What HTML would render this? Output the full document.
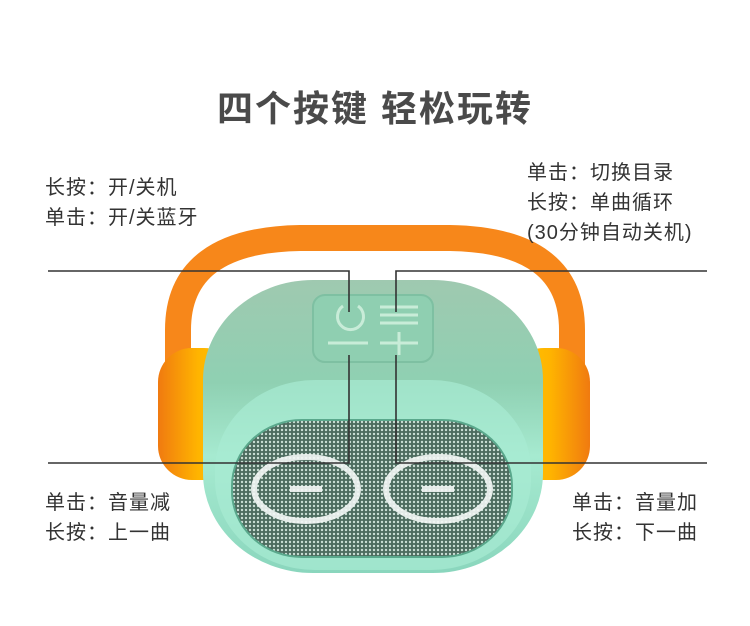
<!DOCTYPE html>
<html><head><meta charset="utf-8"><style>
body{margin:0;width:750px;height:626px;background:#fff;overflow:hidden;position:relative;font-family:"Liberation Sans","Noto Sans CJK SC",sans-serif;}
.t{position:absolute;color:#333;font-size:20px;line-height:30px;letter-spacing:1px;white-space:nowrap}
</style></head><body>
<svg width="750" height="626" style="position:absolute;left:0;top:0">
<defs>
<linearGradient id="bd" x1="0" y1="0" x2="0" y2="1"><stop offset="0" stop-color="#9fc9b0"/><stop offset="0.35" stop-color="#8fd0b2"/><stop offset="0.6" stop-color="#a6ead0"/><stop offset="1" stop-color="#8ad6bd"/></linearGradient>
<pattern id="dots" width="4" height="4" patternUnits="userSpaceOnUse"><rect width="4" height="4" fill="#4c6b5e"/><circle cx="2" cy="2" r="1.2" fill="#c9ded4"/></pattern>
<linearGradient id="ear" x1="0" y1="0" x2="1" y2="0"><stop offset="0" stop-color="#f07a10"/><stop offset="0.5" stop-color="#ffb400"/><stop offset="1" stop-color="#ffc800"/></linearGradient>
<linearGradient id="ear2" x1="1" y1="0" x2="0" y2="0"><stop offset="0" stop-color="#f07a10"/><stop offset="0.5" stop-color="#ffb400"/><stop offset="1" stop-color="#ffc800"/></linearGradient>
</defs>
<!-- handle -->
<path d="M178 420 L178 330 Q178 240 300 238 L450 238 Q572 240 572 330 L572 420" fill="none" stroke="#f7871a" stroke-width="26" stroke-linecap="round"/>
<!-- ear cups -->
<rect x="158" y="348" width="80" height="132" rx="34" fill="url(#ear)"/>
<rect x="510" y="348" width="80" height="132" rx="34" fill="url(#ear2)"/>
<!-- body -->
<rect x="203" y="280" width="340" height="293" rx="110" ry="100" fill="url(#bd)"/>
<rect x="215" y="380" width="316" height="190" rx="100" ry="90" fill="#a8ebd3" opacity="0.7"/>
<!-- grille -->
<rect x="232" y="420" width="280" height="137" rx="70" ry="66" fill="url(#dots)" stroke="#5aa88c" stroke-width="2"/>
<g fill="none" stroke="#f4f8f6" stroke-width="6" opacity="0.9">
<ellipse cx="306" cy="489" rx="52" ry="32"/>
<ellipse cx="438" cy="489" rx="52" ry="32"/>
<line x1="290" y1="489" x2="322" y2="489"/>
<line x1="422" y1="489" x2="454" y2="489"/>
</g>
<!-- panel -->
<rect x="313" y="295" width="120" height="67" rx="12" fill="#8fcfb1" stroke="#7ec0a2" stroke-width="2"/>
<g stroke="#c8ecd8" stroke-width="3" fill="none">
<path d="M343 306 A13 13 0 1 0 358 306"/>
<line x1="380" y1="307" x2="418" y2="307"/><line x1="380" y1="315" x2="418" y2="315"/><line x1="380" y1="323" x2="418" y2="323"/>
<line x1="328" y1="343" x2="368" y2="343"/><line x1="380" y1="343" x2="418" y2="343"/><line x1="399" y1="332" x2="399" y2="355"/>
</g>
<!-- connectors -->
<g stroke="#333" stroke-width="1.6" fill="none">
<polyline points="48,271 349,271 349,312"/>
<polyline points="707,271 396,271 396,312"/>
<polyline points="48,463 349,463 349,355"/>
<polyline points="707,463 396,463 396,355"/>
</g>
</svg>
<div style="position:absolute;left:0;width:750px;top:80px;text-align:center;font-size:36px;font-weight:bold;color:#4a4a4a;letter-spacing:2px">四个按键 轻松玩转</div>
<div class="t" style="left:45px;top:173px">长按：开/关机<br>单击：开/关蓝牙</div>
<div class="t" style="left:527px;top:158px">单击：切换目录<br>长按：单曲循环<br>(30分钟自动关机)</div>
<div class="t" style="left:45px;top:488px">单击：音量减<br>长按：上一曲</div>
<div class="t" style="left:572px;top:488px">单击：音量加<br>长按：下一曲</div>
</body></html>
